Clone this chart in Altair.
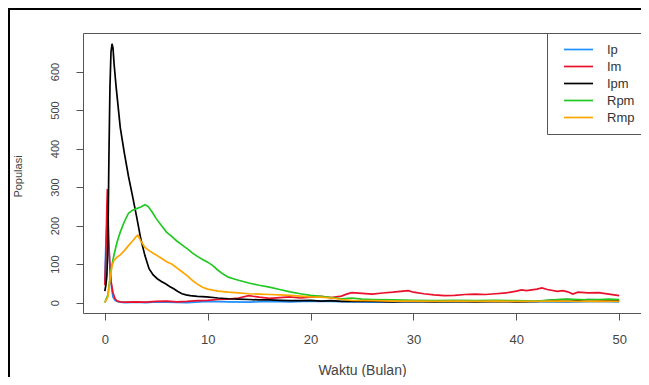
import altair as alt
import pandas as pd

series_names = ["Ip", "Im", "Ipm", "Rpm", "Rmp"]
series_colors = ["#1E90FF", "#E8102A", "#000000", "#22C822", "#FFA500"]

x_ticks = [0, 10, 20, 30, 40, 50]
y_ticks = [0, 100, 200, 300, 400, 500, 600]

ip_t = [0, 0.1, 0.2, 0.3, 0.4, 0.5, 0.6, 0.7, 0.8, 1.0, 1.2, 1.5, 2, 3, 4, 5, 6, 8, 10, 12, 14, 16, 18,
        20, 22, 24, 26, 28, 30, 33, 36, 39, 42, 45, 48, 50]
ip_v = [55, 150, 200, 185, 140, 95, 55, 30, 14, 6, 3, 1, 0, 1, 0, 2, 1, 0, 3, 2, 1, 3, 2,
        4, 3, 2, 1, 2, 3, 1, 2, 3, 2, 1, 3, 2]

im_t = [0, 0.1, 0.2, 0.25, 0.3, 0.4, 0.5, 0.6, 0.8, 1.0, 1.2, 1.5, 2, 3, 4, 5, 6, 7, 8, 9, 10, 11, 12,
        13, 14, 15, 16, 17, 18, 19, 20, 21, 22, 23, 23.5, 24, 25, 26, 27, 28, 29, 29.5, 30, 31, 32,
        33, 34, 35, 36, 37, 38, 39, 40, 40.5, 41, 42, 42.5, 43, 44, 44.5, 45, 45.5, 46, 47, 48, 49, 50]
im_v = [45, 120, 250, 295, 240, 150, 90, 55, 25, 10, 4, 2, 1, 2, 1, 3, 4, 2, 3, 5, 6, 8, 9,
        12, 18, 14, 11, 13, 15, 12, 14, 16, 13, 17, 22, 26, 24, 22, 25, 27, 30, 31, 27, 23, 20,
        18, 19, 21, 22, 21, 23, 25, 30, 33, 31, 35, 38, 34, 29, 31, 28, 22, 27, 25, 26, 22, 18]

ipm_t = [0, 0.1, 0.2, 0.3, 0.4, 0.5, 0.6, 0.7, 0.8, 0.9, 1.1, 1.5, 1.9, 2.3, 2.7, 3.1, 3.5, 3.9,
         4.3, 4.7, 5.1, 5.5, 5.9, 6.3, 6.7, 7.1, 7.5, 7.9, 8.3, 9.0, 9.9, 11, 12, 13, 14, 15, 16,
         17, 18, 19, 20, 21, 22, 23, 24, 26, 28, 30, 32, 34, 36, 38, 40, 42, 43, 44, 45, 46, 47,
         48, 49, 50]
ipm_v = [30, 45, 70, 150, 380, 560, 650, 672, 660, 620, 560, 455, 388, 328, 276, 222, 165, 122,
         88, 72, 62, 55, 49, 42, 36, 29, 23, 20, 18, 16, 15, 12, 10, 9, 8, 7, 7,
         6, 5, 5, 6, 4, 5, 3, 4, 3, 2, 3, 2, 3, 2, 3, 2, 3, 5, 7, 8, 6, 8,
         7, 6, 5]

rpm_t = [0, 0.3, 0.6, 0.9, 1.2, 1.5, 1.9, 2.3, 2.7, 3.1, 3.5, 3.9, 4.2, 4.6, 5.0, 5.5, 6.0, 6.5,
         7.0, 7.5, 8.0, 8.5, 9.0, 9.5, 10, 10.5, 11, 11.5, 12, 12.5, 13, 14, 15, 16, 17, 18, 19,
         20, 21, 22, 23, 24, 25, 26, 28, 30, 32, 34, 36, 38, 40, 42, 43, 44, 45, 46, 47, 48, 49, 50]
rpm_v = [0, 20, 85, 125, 158, 183, 210, 232, 240, 244, 248, 254, 250, 235, 218, 200, 183, 172,
         160, 150, 140, 129, 120, 112, 105, 96, 84, 74, 66, 62, 58, 51, 45, 40, 34, 28, 23,
         19, 16, 13, 10, 12, 9, 8, 7, 6, 5, 6, 5, 6, 5, 4, 6, 8, 9, 8, 7, 8, 9, 8]

rmp_t = [0, 0.3, 0.5, 0.7, 0.9, 1.2, 1.5, 1.9, 2.3, 2.7, 3.0, 3.2, 3.5, 3.9, 4.3, 4.7, 5.1, 5.5,
         6.0, 6.5, 7.0, 7.5, 8.0, 8.5, 9.0, 9.5, 10, 11, 12, 13, 14, 15, 16, 17, 18, 19, 20, 21,
         22, 23, 24, 26, 28, 30, 32, 34, 36, 38, 40, 42, 44, 46, 48, 50]
rmp_v = [0, 15, 60, 95, 110, 118, 124, 135, 148, 160, 170, 175, 160, 143, 135, 128, 122, 115,
         106, 100, 90, 80, 70, 58, 48, 40, 35, 30, 27, 25, 23, 22, 21, 20, 19, 17, 15, 14,
         12, 8, 6, 5, 4, 4, 3, 4, 3, 4, 3, 3, 4, 3, 4, 3]

rows = []
for name, ts, vs in [("Ip", ip_t, ip_v), ("Im", im_t, im_v), ("Ipm", ipm_t, ipm_v),
                     ("Rpm", rpm_t, rpm_v), ("Rmp", rmp_t, rmp_v)]:
    for i, (t, v) in enumerate(zip(ts, vs)):
        rows.append({"t": t, "v": v, "s": name, "o": i})
df = pd.DataFrame(rows)

FONT = "Liberation Sans"
TXT = "#444444"
AX = "#555555"

lines = alt.Chart(df).mark_line(strokeWidth=1.7, clip=True).encode(
    x=alt.X("t:Q",
            scale=alt.Scale(domain=[-2.12, 52.12], nice=False, zero=False),
            axis=alt.Axis(values=x_ticks, title="Waktu (Bulan)", grid=False, domain=False,
                          tickSize=7, tickColor=AX, labelFontSize=13, labelPadding=13,
                          labelColor=TXT, labelFont=FONT, labelFlush=False,
                          titleFontSize=14, titleColor=TXT, titleFont=FONT,
                          titleFontWeight="normal", titleX=279, titleY=57,
                          titleBaseline="middle", titleAlign="center")),
    y=alt.Y("v:Q",
            scale=alt.Scale(domain=[-27, 700], nice=False, zero=False),
            axis=alt.Axis(values=y_ticks, title="Populasi", grid=False, domain=False,
                          tickSize=7, tickColor=AX, labelFontSize=11, labelPadding=21,
                          labelAngle=270, labelAlign="center", labelBaseline="middle",
                          labelColor=TXT, labelFont=FONT, labelFlush=False,
                          titleFontSize=11, titleColor=TXT, titleFont=FONT,
                          titleFontWeight="normal", titleAngle=270, titleX=-65, titleY=143,
                          titleBaseline="middle", titleAlign="center")),
    color=alt.Color("s:N",
                    scale=alt.Scale(domain=series_names, range=series_colors),
                    legend=alt.Legend(title=None, orient="none", legendX=464, legendY=0,
                                      strokeColor=AX, fillColor="white", padding=9,
                                      symbolType="M0.08,0H4.54", symbolSize=169,
                                      symbolStrokeWidth=1.7, labelOffset=36,
                                      labelFontSize=13, labelColor="#333333",
                                      labelFont=FONT, rowPadding=2)),
    order="o:Q",
)

frame_src = pd.DataFrame({"k": [0]})
frame_left = alt.Chart(frame_src).mark_rule(color="black", strokeWidth=2, clip=False).encode(
    x=alt.value(-74), y=alt.value(-25), y2=alt.value(344))
frame_top = alt.Chart(frame_src).mark_rule(color="black", strokeWidth=2, clip=False).encode(
    y=alt.value(-24), x=alt.value(-75), x2=alt.value(558))

chart = alt.layer(lines, frame_left, frame_top).properties(
    width=558, height=280,
    padding={"left": 75, "top": 25, "right": 0, "bottom": 64},
    autosize=alt.AutoSizeParams(type="none"),
    background="white",
).configure_view(stroke=AX, strokeWidth=1)

chart.save("out.html", embed_options={"renderer": "svg", "actions": False})
